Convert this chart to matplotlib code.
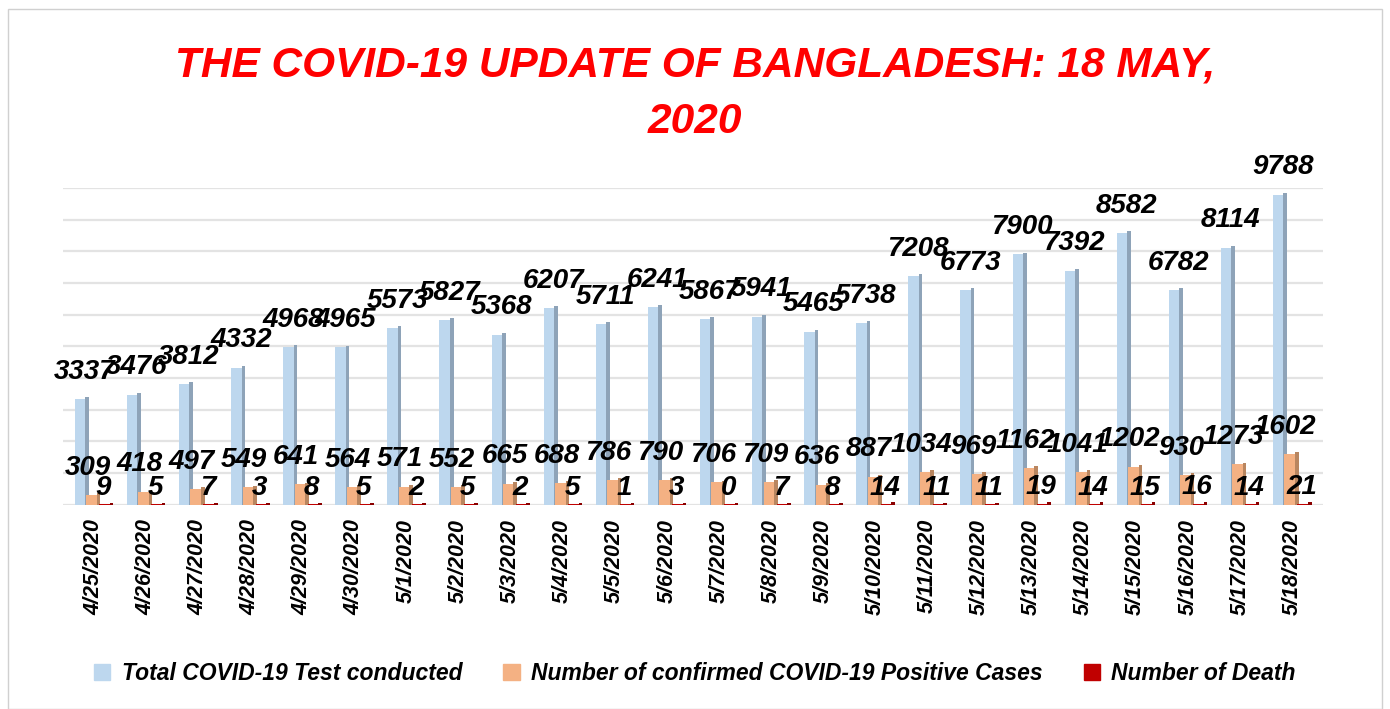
import matplotlib.pyplot as plt
import matplotlib.patches as mpatches
import numpy as np

dates = ["4/25/2020", "4/26/2020", "4/27/2020", "4/28/2020", "4/29/2020",
         "4/30/2020", "5/1/2020", "5/2/2020", "5/3/2020", "5/4/2020",
         "5/5/2020", "5/6/2020", "5/7/2020", "5/8/2020", "5/9/2020",
         "5/10/2020", "5/11/2020", "5/12/2020", "5/13/2020", "5/14/2020",
         "5/15/2020", "5/16/2020", "5/17/2020", "5/18/2020"]
tests = [3337, 3476, 3812, 4332, 4968, 4965, 5573, 5827, 5368, 6207, 5711, 6241,
         5867, 5941, 5465, 5738, 7208, 6773, 7900, 7392, 8582, 6782, 8114, 9788]
cases = [309, 418, 497, 549, 641, 564, 571, 552, 665, 688, 786, 790,
         706, 709, 636, 887, 1034, 969, 1162, 1041, 1202, 930, 1273, 1602]
deaths = [9, 5, 7, 3, 8, 5, 2, 5, 2, 5, 1, 3,
          0, 7, 8, 14, 11, 11, 19, 14, 15, 16, 14, 21]

series_names = ["Total COVID-19 Test conducted",
                "Number of confirmed COVID-19 Positive Cases",
                "Number of Death"]
colors = ["#bdd7ee", "#f4b183", "#c00000"]
side_colors = ["#8ea3b8", "#b98660", "#8a0000"]

plt.rcParams['font.family'] = ['Liberation Sans', 'DejaVu Sans']

fig = plt.figure(figsize=(13.9, 7.09), dpi=100)
# thin frame round the whole picture
fig.patches.append(mpatches.Rectangle((0.006, 0.0), 0.988, 0.988, transform=fig.transFigure,
                                      fill=False, edgecolor="#d0d0d0", linewidth=1))

ax = fig.add_axes([0.045, 0.288, 0.907, 0.447])
x = np.arange(len(dates))
w = 0.27
offs = [-0.23, -0.01, 0.24]
depth = 0.07  # fake 3d side face

# gridlines
for g in range(0, 10001, 1000):
    ax.axhline(g, color="#e3e3e3", linewidth=1.6, zorder=0)

for k, (vals, off, col, scol) in enumerate(zip([tests, cases, deaths], offs, colors, side_colors)):
    vals = np.array(vals, dtype=float)
    ax.bar(x + off + w / 2 - depth / 2, vals + 60, width=depth, color=scol, zorder=2 + 2 * k)
    ax.bar(x + off - depth / 2, np.maximum(vals, 40), width=w - depth, color=col, zorder=3 + 2 * k)

lab = dict(fontsize=20, fontweight="bold", fontstyle="italic", color="black",
           ha="center", va="bottom", zorder=10, clip_on=False)
for i in range(len(dates)):
    ax.text(x[i] + offs[0] + 0.05, tests[i] + 450, str(tests[i]), **lab)
    ax.text(x[i] - 0.12, cases[i] + 450, str(cases[i]), **lab)
    ax.text(x[i] + 0.18, deaths[i] + 120, str(deaths[i]), **lab)

ax.set_xlim(-0.6, len(dates) - 0.4)
ax.set_ylim(0, 10000)
ax.set_yticks([])
ax.set_xticks(x)
ax.set_xticklabels(dates, rotation=90, fontsize=15.5, fontweight="bold", fontstyle="italic")
ax.tick_params(axis="x", length=0, pad=10)
for s in ax.spines.values():
    s.set_visible(False)

fig.text(0.5, 0.908, "THE COVID-19 UPDATE OF BANGLADESH: 18 MAY,", color="#ff0000",
         fontsize=30.5, fontweight="bold", fontstyle="italic", ha="center", va="center")
fig.text(0.5, 0.828, "2020", color="#ff0000",
         fontsize=30.5, fontweight="bold", fontstyle="italic", ha="center", va="center")

handles = [mpatches.Patch(color=c) for c in colors]
fig.legend(handles, series_names, loc="center", bbox_to_anchor=(0.5, 0.05), ncol=3,
           frameon=False, handlelength=0.7, handleheight=0.7, columnspacing=1.8,
           handletextpad=0.5, prop=dict(size=16.5, weight="bold", style="italic"))

fig.savefig("out.png", dpi=100)
